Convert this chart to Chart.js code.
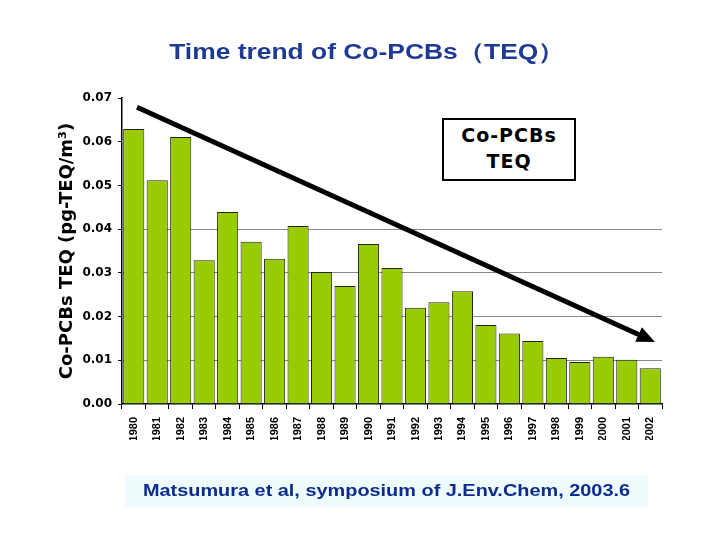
<!DOCTYPE html>
<html>
<head>
<meta charset="utf-8">
<script src="https://cdn.jsdelivr.net/npm/chart.js@4/dist/chart.umd.min.js"></script>
<style>
  body { margin: 0; background: #fff; }
  #wrap { position: relative; width: 720px; height: 540px; overflow: hidden; }
  #title {
    position: absolute; left: 7px; top: 38px; width: 720px; text-align: center;
    color: #1f3a93; font: bold 22px "Liberation Sans", Arial, sans-serif; line-height: 28px;
    transform: scaleX(1.2); transform-origin: 50% 50%;
  }
  #legendBox {
    position: absolute; left: 442px; top: 118px; width: 130px; height: 57px;
    border: 2px solid #000; background: #fff;
    font: bold 19px "DejaVu Sans", sans-serif; line-height: 26px; text-align: center;
    letter-spacing: 1px; padding-top: 2px;
  }
  #footer {
    position: absolute; left: 125px; top: 475px; width: 523px; height: 32px;
    background: #eefcfd;
  }
  #footer span {
    display: block; color: #0d2b8c; text-align: center;
    font: bold 17px "Liberation Sans", Arial, sans-serif; line-height: 32px;
    transform: scaleX(1.17); transform-origin: 50% 50%;
  }
</style>
</head>
<body>
<div id="wrap">
  <canvas id="trendChart" width="720" height="540"></canvas>
  <div id="title">Time trend of Co-PCBs（TEQ）</div>
  <div id="legendBox">Co-PCBs<br>TEQ</div>
  <div id="footer"><span>Matsumura et al, symposium of J.Env.Chem, 2003.6</span></div>
</div>
<script>
// Data
const years = ["1980", "1981", "1982", "1983", "1984", "1985", "1986", "1987", "1988", "1989", "1990", "1991",
  "1992", "1993", "1994", "1995", "1996", "1997", "1998", "1999", "2000", "2001", "2002"];
const teq = [0.0629, 0.0512, 0.0611, 0.0329, 0.0439, 0.0371, 0.0332, 0.0407, 0.0302, 0.0270, 0.0366, 0.0311,
  0.0220, 0.0233, 0.0258, 0.0181, 0.0161, 0.0144, 0.0105, 0.0096, 0.0108, 0.0101, 0.0082];
const yTicks = [0, 0.01, 0.02, 0.03, 0.04, 0.05, 0.06, 0.07];
// trend arrow (category index, value)
const arrowX = [0.14, 22.2];
const arrowY = [0.0679, 0.0142];

// Trend arrow plugin
const trendArrow = {
  id: "trendArrow",
  afterDatasetsDraw(chart) {
    const { ctx, scales } = chart;
    const x1 = scales.x.getPixelForValue(arrowX[0]);
    const y1 = scales.y.getPixelForValue(arrowY[0]);
    const x2 = scales.x.getPixelForValue(arrowX[1]);
    const y2 = scales.y.getPixelForValue(arrowY[1]);
    const ang = Math.atan2(y2 - y1, x2 - x1);
    const headLen = 18, headW = 8;
    const bx = x2 - headLen * Math.cos(ang);
    const by = y2 - headLen * Math.sin(ang);
    ctx.save();
    ctx.strokeStyle = "#000";
    ctx.lineWidth = 5;
    ctx.beginPath();
    ctx.moveTo(x1, y1);
    ctx.lineTo(bx, by);
    ctx.stroke();
    ctx.fillStyle = "#000";
    ctx.beginPath();
    ctx.moveTo(x2, y2);
    ctx.lineTo(bx + headW * Math.sin(ang), by - headW * Math.cos(ang));
    ctx.lineTo(bx - headW * Math.sin(ang), by + headW * Math.cos(ang));
    ctx.closePath();
    ctx.fill();
    ctx.restore();
  }
};

new Chart(document.getElementById("trendChart"), {
  type: "bar",
  data: {
    labels: years,
    datasets: [{
      label: "Co-PCBs TEQ",
      data: teq,
      backgroundColor: "#99cc00",
      borderColor: "#222",
      borderWidth: 1,
      barPercentage: 0.9,
      categoryPercentage: 1.0
    }]
  },
  plugins: [trendArrow],
  options: {
    responsive: false,
    animation: false,
    layout: { padding: { top: 98, left: 57, right: 58, bottom: 100 } },
    plugins: {
      legend: { display: false },
      tooltip: { enabled: false }
    },
    scales: {
      x: {
        grid: { drawOnChartArea: false, tickColor: "#000", tickLength: 5 },
        border: { color: "#000", width: 1.5 },
        ticks: {
          color: "#000", minRotation: 90, maxRotation: 90, padding: 8,
          font: { family: "Liberation Sans", size: 11, weight: "bold" }
        },
        afterFit(scale) { scale.height = 36; }
      },
      y: {
        min: 0,
        max: 0.07,
        afterBuildTicks(scale) { scale.ticks = yTicks.map(v => ({ value: v })); },
        grid: {
          color: c => (c.tick && c.tick.value > 0.005 && c.tick.value < 0.045) ? "#888" : "rgba(0,0,0,0)",
          tickColor: "#000",
          tickLength: 4
        },
        border: { color: "#000", width: 1.5 },
        ticks: {
          color: "#000", padding: 6,
          font: { family: "DejaVu Sans", size: 12, weight: "bold" },
          callback: v => Number(v).toFixed(2)
        },
        title: {
          display: true,
          text: "Co-PCBs TEQ (pg-TEQ/m³)",
          color: "#000",
          font: { family: "DejaVu Sans", size: 18, weight: "bold" },
          padding: { top: 0, bottom: 2 }
        },
        afterFit(scale) { scale.width = 65; }
      }
    }
  }
});
</script>
</body>
</html>
